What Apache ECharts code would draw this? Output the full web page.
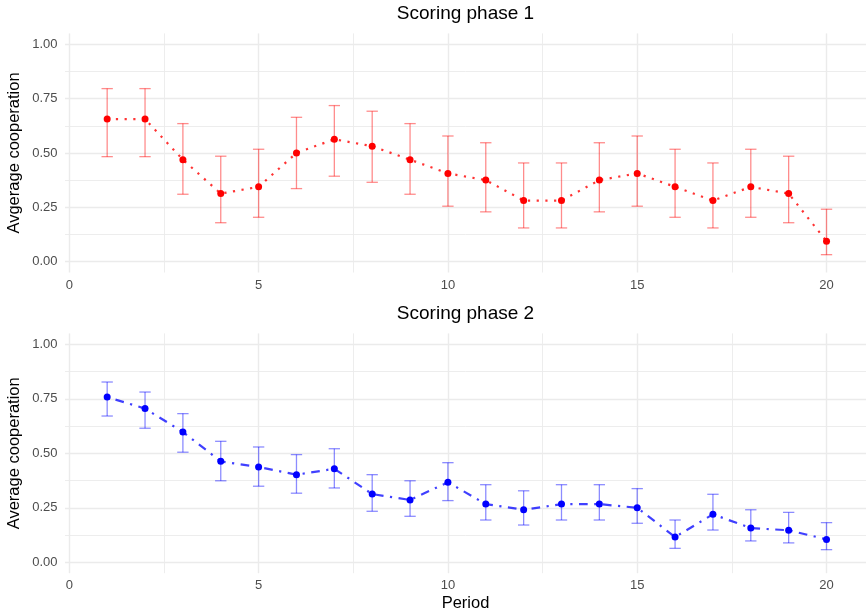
<!DOCTYPE html>
<html>
<head>
<meta charset="utf-8">
<script src="https://cdn.jsdelivr.net/npm/echarts@6/dist/echarts.min.js"></script>
<style>
  html, body { margin: 0; padding: 0; background: #ffffff; }
  #chart { width: 866px; height: 616px; }
</style>
</head>
<body>
<div id="chart"></div>
<script>
// Periods of play
const periods = [1, 2, 3, 4, 5, 6, 7, 8, 9, 10, 11, 12, 13, 14, 15, 16, 17, 18, 19, 20];

// Scoring phase 1: mean cooperation and 95% interval
const phase1Mean  = [0.656, 0.656, 0.469, 0.313, 0.344, 0.500, 0.563, 0.531, 0.469, 0.406,
                     0.375, 0.281, 0.281, 0.375, 0.406, 0.344, 0.281, 0.344, 0.313, 0.094];
const phase1Lower = [0.483, 0.483, 0.310, 0.179, 0.204, 0.336, 0.393, 0.365, 0.310, 0.255,
                     0.229, 0.155, 0.155, 0.229, 0.255, 0.204, 0.155, 0.204, 0.179, 0.032];
const phase1Upper = [0.796, 0.796, 0.635, 0.485, 0.517, 0.664, 0.718, 0.692, 0.635, 0.578,
                     0.547, 0.454, 0.454, 0.547, 0.578, 0.517, 0.454, 0.517, 0.485, 0.241];

// Scoring phase 2: mean cooperation and 95% interval
const phase2Mean  = [0.758, 0.705, 0.598, 0.463, 0.437, 0.402, 0.429, 0.313, 0.286, 0.367,
                     0.267, 0.241, 0.267, 0.267, 0.250, 0.116, 0.220, 0.157, 0.147, 0.105];
const phase2Lower = [0.671, 0.615, 0.505, 0.374, 0.349, 0.317, 0.341, 0.234, 0.211, 0.283,
                     0.194, 0.171, 0.194, 0.194, 0.179, 0.064, 0.148, 0.098, 0.089, 0.058];
const phase2Upper = [0.827, 0.781, 0.682, 0.555, 0.529, 0.494, 0.521, 0.402, 0.374, 0.457,
                     0.356, 0.328, 0.356, 0.356, 0.338, 0.194, 0.312, 0.241, 0.229, 0.182];

// Axis ticks
const xTicks = [0, 5, 10, 15, 20];
const xMinorTicks = [2.5, 7.5, 12.5, 17.5];
const yTicks = [0, 0.25, 0.5, 0.75, 1];
const yMinorTicks = [0.125, 0.375, 0.625, 0.875];

const panelTitles = ['Scoring phase 1', 'Scoring phase 2'];
const yTitles = ['Avgerage cooperation', 'Average cooperation'];
const xTitle = 'Period';

const FONT = '"Liberation Sans", Arial, Helvetica, sans-serif';
const GRID_COLOR = '#EBEBEB';
const X_MIN = -0.114, X_MAX = 21.043;
const Y_MIN = -0.05, Y_MAX = 1.05;
const CAP_HALF = 0.15;

const panels = [
  { top: 33.4, height: 239.1 },
  { top: 333.4, height: 239.8 }
];

const chart = echarts.init(document.getElementById('chart'), null, { renderer: 'canvas' });

const grids = [], xAxes = [], yAxes = [], series = [];

panels.forEach((p, g) => {
  grids.push({ left: 65, top: p.top, width: 801, height: p.height, containLabel: false });

  // major x axis (labels + major grid)
  xAxes.push({
    type: 'value', gridIndex: g, min: X_MIN, max: X_MAX,
    axisLine: { show: false },
    axisTick: { show: false, customValues: xTicks },
    axisLabel: {
      customValues: xTicks, color: '#4D4D4D', fontSize: 13, fontFamily: FONT, margin: 6
    },
    splitLine: { show: true, lineStyle: { color: GRID_COLOR, width: 1.4 } }
  });
  // minor x grid
  xAxes.push({
    type: 'value', gridIndex: g, min: X_MIN, max: X_MAX,
    axisLine: { show: false },
    axisTick: { show: false, customValues: xMinorTicks },
    axisLabel: { show: false },
    splitLine: { show: true, lineStyle: { color: GRID_COLOR, width: 0.9 } }
  });
  // major y axis
  yAxes.push({
    type: 'value', gridIndex: g, min: Y_MIN, max: Y_MAX,
    axisLine: { show: false },
    axisTick: { show: false, customValues: yTicks },
    axisLabel: {
      customValues: yTicks, color: '#4D4D4D', fontSize: 13, fontFamily: FONT, margin: 7.5,
      formatter: v => Number(v).toFixed(2)
    },
    splitLine: { show: true, lineStyle: { color: GRID_COLOR, width: 1.4 } }
  });
  // minor y grid
  yAxes.push({
    type: 'value', gridIndex: g, min: Y_MIN, max: Y_MAX,
    axisLine: { show: false },
    axisTick: { show: false, customValues: yMinorTicks },
    axisLabel: { show: false },
    splitLine: { show: true, lineStyle: { color: GRID_COLOR, width: 0.9 } }
  });
});

function errorBarRenderer(color) {
  return function (params, api) {
    const x = api.value(0), lo = api.value(1), hi = api.value(2);
    const top = api.coord([x, hi]);
    const bot = api.coord([x, lo]);
    const l = api.coord([x - CAP_HALF, hi])[0];
    const r = api.coord([x + CAP_HALF, hi])[0];
    const style = { stroke: color, lineWidth: 1.3, fill: null };
    return {
      type: 'group',
      children: [
        { type: 'line', shape: { x1: l, y1: top[1], x2: r, y2: top[1] }, style },
        { type: 'line', shape: { x1: top[0], y1: top[1], x2: bot[0], y2: bot[1] }, style },
        { type: 'line', shape: { x1: l, y1: bot[1], x2: r, y2: bot[1] }, style }
      ]
    };
  };
}

const phaseData = [
  { mean: phase1Mean, lower: phase1Lower, upper: phase1Upper,
    point: '#FF0000', line: 'rgba(255,0,0,0.8)', bar: 'rgba(255,0,0,0.45)', dash: [2.2, 6.5] },
  { mean: phase2Mean, lower: phase2Lower, upper: phase2Upper,
    point: '#0000FF', line: 'rgba(0,0,255,0.75)', bar: 'rgba(0,0,255,0.45)', dash: [2.2, 6.5, 8.7, 6.5] }
];

phaseData.forEach((d, g) => {
  series.push({
    type: 'custom',
    xAxisIndex: 2 * g, yAxisIndex: 2 * g,
    renderItem: errorBarRenderer(d.bar),
    encode: { x: 0, y: [1, 2] },
    data: periods.map((p, i) => [p, d.lower[i], d.upper[i]]),
    z: 2,
    silent: true
  });
  series.push({
    type: 'line',
    xAxisIndex: 2 * g, yAxisIndex: 2 * g,
    data: periods.map((p, i) => [p, d.mean[i]]),
    symbol: 'circle', symbolSize: 7, showSymbol: true,
    itemStyle: { color: d.point, opacity: 1 },
    lineStyle: { color: d.line, width: 2.2, type: d.dash, cap: 'butt' },
    z: 3,
    silent: true
  });
});

const graphics = [];
panels.forEach((p, g) => {
  graphics.push({
    type: 'text', x: 465.5, y: p.top - 19.5,
    style: { text: panelTitles[g], font: '19px ' + FONT, fill: '#000', textAlign: 'center', textVerticalAlign: 'middle' }
  });
  graphics.push({
    type: 'text', x: 14.5, y: p.top + p.height / 2, rotation: Math.PI / 2,
    style: { text: yTitles[g], font: '16.5px ' + FONT, fill: '#000', textAlign: 'center', textVerticalAlign: 'middle' }
  });
});
graphics.push({
  type: 'text', x: 465.5, y: 603,
  style: { text: xTitle, font: '16.5px ' + FONT, fill: '#000', textAlign: 'center', textVerticalAlign: 'middle' }
});

chart.setOption({
  animation: false,
  backgroundColor: '#ffffff',
  grid: grids,
  xAxis: xAxes,
  yAxis: yAxes,
  series: series,
  graphic: graphics
});
</script>
</body>
</html>
